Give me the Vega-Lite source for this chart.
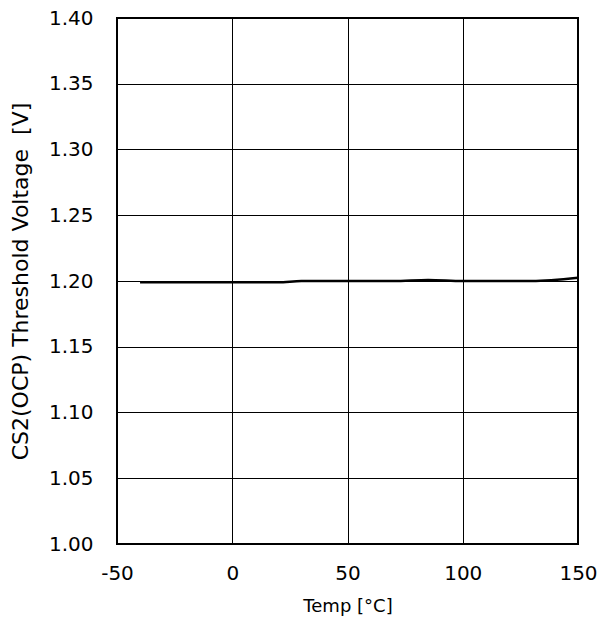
{
  "$schema": "https://vega.github.io/schema/vega-lite/v6.json",
  "autosize": "none",
  "padding": {"left": 117, "top": 18, "right": 29, "bottom": 86},
  "width": 461,
  "height": 526,
  "background": "white",
  "config": {
    "font": "DejaVu Sans",
    "view": {"stroke": "black", "strokeWidth": 2},
    "axis": {"grid": true, "gridColor": "black", "gridWidth": 1, "gridOpacity": 1, "domain": false, "ticks": false, "labelFont": "DejaVu Sans", "labelFontSize": 20, "labelColor": "black", "titleFont": "DejaVu Sans", "titleFontSize": 18, "titleFontWeight": "normal", "titleColor": "black", "labelFlush": false, "labelOverlap": false}
  },
  "data": {"values": [
    {"temp": -40, "v": 1.199},
    {"temp": -20, "v": 1.199},
    {"temp": 0, "v": 1.199},
    {"temp": 20, "v": 1.199},
    {"temp": 30, "v": 1.2},
    {"temp": 50, "v": 1.2},
    {"temp": 70, "v": 1.2},
    {"temp": 85, "v": 1.2008},
    {"temp": 100, "v": 1.2},
    {"temp": 130, "v": 1.2},
    {"temp": 150, "v": 1.2025}
  ]},
  "mark": {"type": "line", "color": "black", "strokeWidth": 2.5, "interpolate": "monotone"},
  "encoding": {
    "x": {"field": "temp", "type": "quantitative", "scale": {"domain": [-50, 150], "nice": false},
      "axis": {"values": [-50, 0, 50, 100, 150], "labelExpr": "toString(datum.value)", "title": "Temp [°C]", "labelPadding": 19, "titlePadding": 14}},
    "y": {"field": "v", "type": "quantitative", "scale": {"domain": [1.0, 1.4], "nice": false, "zero": false},
      "axis": {"values": [1.0, 1.05, 1.1, 1.15, 1.2, 1.25, 1.3, 1.35, 1.4], "format": ".2f", "title": "CS2(OCP) Threshold Voltage\u00a0\u00a0[V]", "titleFontSize": 22, "labelPadding": 24, "titlePadding": 16}}
  }
}
